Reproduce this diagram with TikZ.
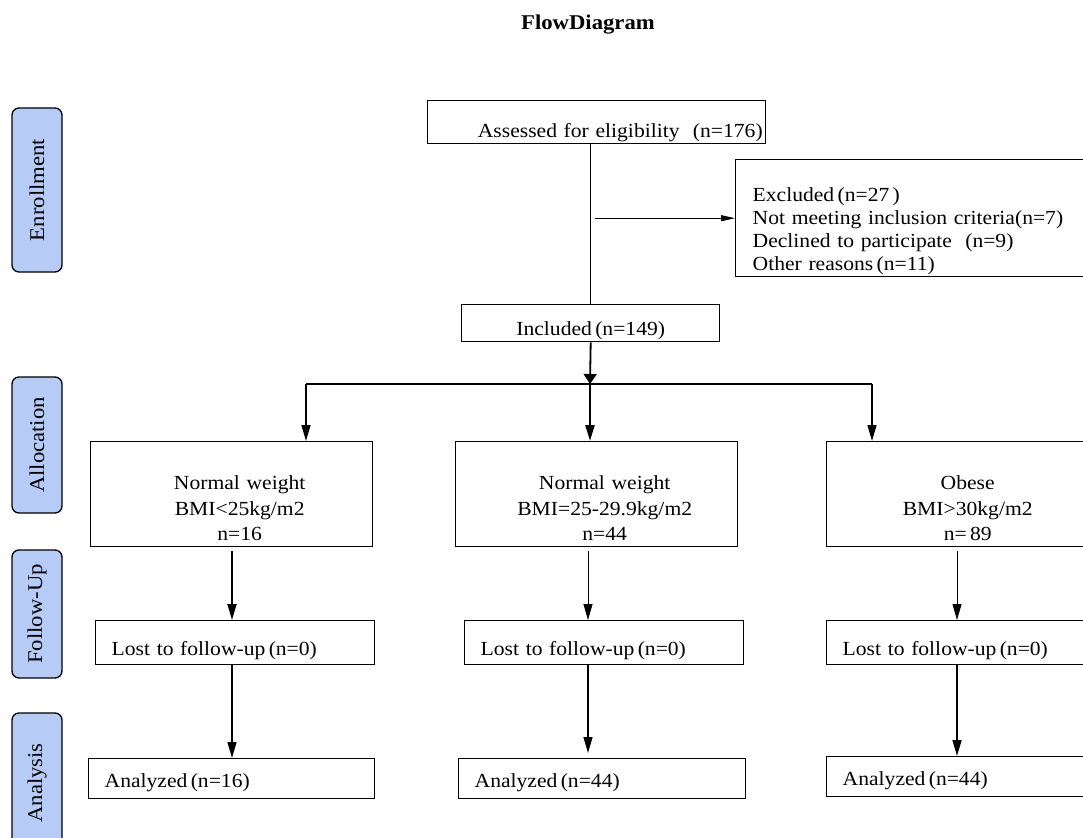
\documentclass[tikz,border=0pt]{standalone}
\usepackage{fontspec}
\setmainfont{Liberation Serif}[FakeStretch=1.08]
\usetikzlibrary{positioning}
\usetikzlibrary{arrows.meta}
\definecolor{stagefill}{RGB}{183,203,247}

\tikzset{
  box/.style={draw, line width=1.4pt, anchor=north west, inner ysep=0pt,
    font=\fontsize{20}{23}\selectfont},
  stage/.style={draw, line width=1.3pt, fill=stagefill, rounded corners=7pt,
    rotate=90, minimum height=50pt, inner sep=0pt,
    font=\fontsize{21}{24}\selectfont},
  link/.style={-{Triangle[length=16pt,width=9pt]}, line width=1.4pt},
  thin link/.style={link, line width=0.9pt}
}

\begin{document}
\begin{tikzpicture}[x=1pt,y=-1pt]
  \useasboundingbox (0,0) rectangle (1083,837);

  \coordinate (colA) at (232,0);
  \coordinate (colB) at (588,0);
  \coordinate (colC) at (957,0);
  \coordinate (split) at (590,384);
  \coordinate (splitL) at (306,384);
  \coordinate (splitR) at (872,384);

  \node[font=\bfseries\fontsize{21}{24}\selectfont] (title) at (588,25) {FlowDiagram};

  % stages
  \node[stage, minimum width=164pt] (enrol) at (37,190) {Enrollment};
  \node[stage, minimum width=136pt] (alloc) at (37,445) {Allocation};
  \node[stage, minimum width=128pt] (follow) at (37,614) {Follow-Up};
  \node[stage, minimum width=140pt] (analys) at (37,783) {Analysis};

  \node[box, text width=332pt, inner xsep=3pt, text height=37pt, text depth=6pt,
    align=right] (assess) at (427,100) {Assessed for eligibility\ \ (n=176)};
  \node[box, text width=330pt, inner xsep=17pt, text height=42pt, text depth=75pt,
    align=left] (excl) at (735,159)
    {Excluded\,(n=27\,)\\Not meeting inclusion criteria(n=7)\\Declined to participate\ \ (n=9)\\Other reasons\,(n=11)};
  \node[box, minimum width=258pt, text height=31pt, text depth=6pt] (incl) at (461,304) {Included\,(n=149)};

  \node[box, text width=266pt, inner xsep=8pt, text height=48pt, text depth=57pt, align=center,
    font=\fontsize{20}{25.5}\selectfont] (normal) at (90,441) {\hspace*{16pt}Normal weight\\\hspace*{16pt}BMI<25kg/m2\\\hspace*{16pt}n=16};
  \node[box, text width=266pt, inner xsep=8pt, text height=48pt, text depth=57pt, align=center,
    font=\fontsize{20}{25.5}\selectfont] (over) at (455,441) {\hspace*{16pt}Normal weight\\\hspace*{16pt}BMI=25-29.9kg/m2\\\hspace*{16pt}n=44};
  \node[box, text width=266pt, inner xsep=8pt, text height=48pt, text depth=57pt, align=center,
    font=\fontsize{20}{25.5}\selectfont] (obese) at (826,441) {Obese\\BMI>30kg/m2\\n=\,89};

  \node[box, text width=247pt, inner xsep=16pt, text height=35pt, text depth=9pt, align=left]
    (lostA) at (95,620) {Lost to follow-up\,(n=0)};
  \node[box, text width=247pt, inner xsep=16pt, text height=35pt, text depth=9pt, align=left]
    (lostB) at (464,620) {Lost to follow-up\,(n=0)};
  \node[box, text width=247pt, inner xsep=16pt, text height=35pt, text depth=9pt, align=left]
    (lostC) at (826,620) {Lost to follow-up\,(n=0)};

  \node[box, text width=254pt, inner xsep=16pt, text height=29pt, text depth=11pt, align=left]
    (anA) at (88,758) {Analyzed\,(n=16)};
  \node[box, text width=255pt, inner xsep=16pt, text height=29pt, text depth=11pt, align=left]
    (anB) at (458,758) {Analyzed\,(n=44)};
  \node[box, text width=250pt, inner xsep=16pt, text height=29pt, text depth=11pt, align=left]
    (anC) at (826,756) {Analyzed\,(n=44)};

  % enrollment
  \draw[line width=1.3pt] (assess.south -| incl.north) -- (incl.north);
  \draw[link, line width=0.9pt, -{Triangle[length=14pt,width=6pt]}]
    ([xshift=4pt]excl.west -| incl.north) -- (excl.west);

  % allocation
  \draw[link, line width=1.8pt, -{Triangle[length=10pt,width=13pt]}] (incl.south) -- (split);
  \draw[line width=1.3pt] (splitL) -- (splitR);
  \draw[link] (splitL) -- (splitL |- normal.north);
  \draw[link, line width=2.4pt] (split) -- (split |- over.north);
  \draw[link] (splitR) -- (splitR |- obese.north);

  % follow-up
  \draw[link, line width=1.8pt] ([yshift=-4pt]colA |- normal.south) -- (colA |- lostA.north);
  \draw[thin link] ([yshift=-4pt]colB |- over.south) -- (colB |- lostB.north);
  \draw[thin link] ([yshift=-4pt]colC |- obese.south) -- (colC |- lostC.north);

  % analysis
  \draw[link] (colA |- lostA.south) -- (colA |- anA.north);
  \draw[link] (colB |- lostB.south) -- ([yshift=5pt]colB |- anB.north);
  \draw[link, line width=1.6pt] (colC |- lostC.south) -- (colC |- anC.north);
\end{tikzpicture}
\end{document}
